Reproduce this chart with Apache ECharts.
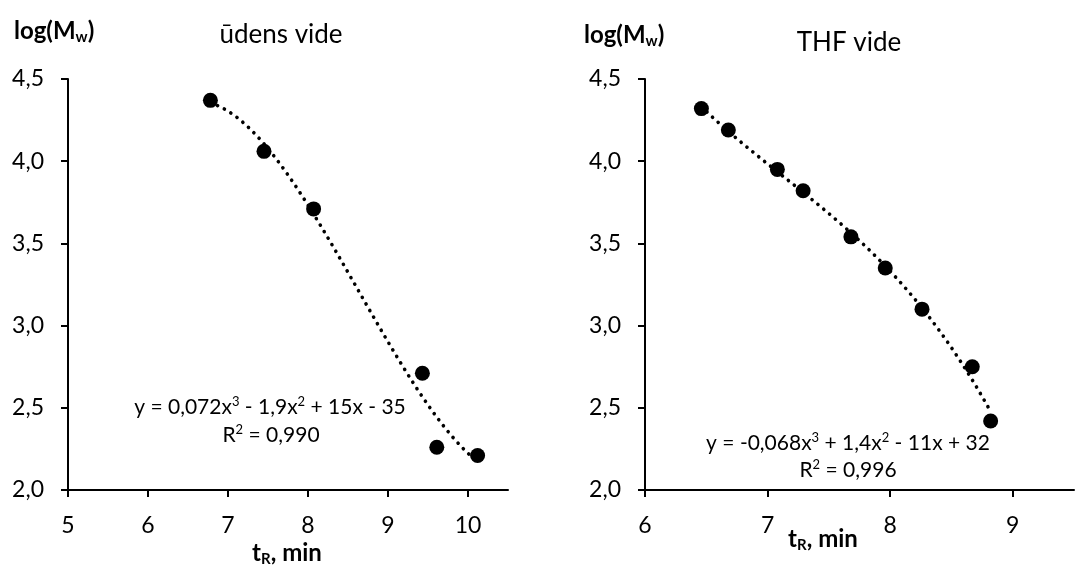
<!DOCTYPE html>
<html>
<head>
<meta charset="utf-8">
<script src="https://cdn.jsdelivr.net/npm/echarts@6/dist/echarts.min.js"></script>
<style>
  html, body { margin: 0; padding: 0; background: #fff; }
  #chart { width: 1075px; height: 567px; }
</style>
</head>
<body>
<div id="chart"></div>
<script>
const FONT = 'Lato';

// Calibration standards: retention time t_R (min) and log(Mw)
const waterTime = [6.78, 7.45, 8.07, 9.43, 9.61, 10.12];
const waterLogM = [4.37, 4.06, 3.71, 2.71, 2.26, 2.21];
const thfTime = [6.46, 6.68, 7.08, 7.29, 7.68, 7.96, 8.26, 8.67, 8.82];
const thfLogM = [4.32, 4.19, 3.95, 3.82, 3.54, 3.35, 3.10, 2.75, 2.42];

// Axis ticks
const waterTimeTicks = [5, 6, 7, 8, 9, 10];
const thfTimeTicks = [6, 7, 8, 9];
const logMTicks = [2.0, 2.5, 3.0, 3.5, 4.0, 4.5];

// Panel texts; superscripts are marked with ^
const waterTitle = 'ūdens vide';
const thfTitle = 'THF vide';
const waterEquation = ['y = 0,072x^3 - 1,9x^2 + 15x - 35', 'R^2 = 0,990'];
const thfEquation = ['y = -0,068x^3 + 1,4x^2 - 11x + 32', 'R^2 = 0,996'];

// Least-squares polynomial fit (third order trendline)
function polyFit(xs, ys, deg) {
  const n = deg + 1;
  const mx = xs.reduce((a, b) => a + b, 0) / xs.length;
  const A = Array.from({ length: n }, () => new Array(n + 1).fill(0));
  xs.forEach((x, k) => {
    const t = x - mx;
    for (let i = 0; i < n; i++) {
      for (let j = 0; j < n; j++) A[i][j] += Math.pow(t, i + j);
      A[i][n] += Math.pow(t, i) * ys[k];
    }
  });
  for (let c = 0; c < n; c++) {
    let p = c;
    for (let r = c + 1; r < n; r++) if (Math.abs(A[r][c]) > Math.abs(A[p][c])) p = r;
    [A[c], A[p]] = [A[p], A[c]];
    for (let r = 0; r < n; r++) {
      if (r === c) continue;
      const f = A[r][c] / A[c][c];
      for (let k = c; k <= n; k++) A[r][k] -= f * A[c][k];
    }
  }
  const coef = A.map((row, i) => row[n] / row[i]);
  return x => coef.reduce((s, c, i) => s + c * Math.pow(x - mx, i), 0);
}

function trendPoints(xs, ys) {
  const f = polyFit(xs, ys, 3);
  const lo = Math.min(...xs), hi = Math.max(...xs);
  const steps = 120;
  const pts = [];
  for (let i = 0; i <= steps; i++) {
    const x = lo + (hi - lo) * i / steps;
    pts.push([x, f(x)]);
  }
  return pts;
}

const pairs = (xs, ys) => xs.map((x, i) => [x, ys[i]]);

function xAxisCfg(gridIndex, min, max, ticks) {
  return {
    type: 'value', gridIndex, min, max, interval: 1,
    axisLine: { onZero: false, lineStyle: { color: '#000', width: 2 } },
    axisTick: { show: true, length: 7, customValues: ticks, lineStyle: { color: '#000', width: 2 } },
    axisLabel: { customValues: ticks, margin: 24, color: '#000', fontFamily: FONT, fontSize: 23,
                 formatter: v => String(v) },
    splitLine: { show: false }
  };
}

function yAxisCfg(gridIndex) {
  return {
    type: 'value', gridIndex, min: 2, max: 4.5, interval: 0.5,
    axisLine: { show: true, onZero: false, lineStyle: { color: '#000', width: 2 } },
    axisTick: { show: true, length: 7, customValues: logMTicks, lineStyle: { color: '#000', width: 2 } },
    axisLabel: { customValues: logMTicks, margin: 24, color: '#000', fontFamily: FONT, fontSize: 23,
                 formatter: v => v.toFixed(1).replace('.', ',') },
    splitLine: { show: false }
  };
}

function scatterSeries(idx, xs, ys) {
  return {
    type: 'scatter', xAxisIndex: idx, yAxisIndex: idx,
    data: pairs(xs, ys), symbol: 'circle', symbolSize: 15,
    itemStyle: { color: '#000', opacity: 1 }, z: 3
  };
}

function trendSeries(idx, xs, ys) {
  return {
    type: 'line', xAxisIndex: idx, yAxisIndex: idx,
    data: trendPoints(xs, ys), showSymbol: false, silent: true, z: 2,
    lineStyle: { color: '#000', width: 3.6, type: [0.1, 7.5], cap: 'round', opacity: 1 }
  };
}

function label(x, y, text, size) {
  return { type: 'text', x, y, silent: true,
    style: { text, align: 'center', verticalAlign: 'middle', fontFamily: FONT, fontSize: size, fill: '#000' } };
}

// Equation line: parts after ^ are raised as superscripts
function equation(x, y, text) {
  const rich = text.replace(/\^(\d)/g, '}{p|$1}{n|');
  return { type: 'text', x, y, silent: true,
    style: {
      text: '{n|' + rich + '}', align: 'center', verticalAlign: 'middle', fill: '#000',
      rich: {
        n: { fontFamily: FONT, fontSize: 21, lineHeight: 24, fill: '#000' },
        p: { fontFamily: FONT, fontSize: 13, lineHeight: 13, verticalAlign: 'top', fill: '#000' }
      }
    } };
}

// Bold text with a subscripted part: [before, sub, after]
function subLabel(x, y, parts, align) {
  return { type: 'text', x, y, silent: true,
    style: {
      text: '{m|' + parts[0] + '}{s|' + parts[1] + '}{m|' + parts[2] + '}',
      align: align || 'left', verticalAlign: 'middle', fill: '#000',
      rich: {
        m: { fontFamily: FONT, fontSize: 24, fontWeight: 'bold', lineHeight: 28, fill: '#000' },
        s: { fontFamily: FONT, fontSize: 15, fontWeight: 'bold', lineHeight: 13, verticalAlign: 'bottom', fill: '#000' }
      }
    } };
}

const chart = echarts.init(document.getElementById('chart'));
chart.setOption({
  animation: false,
  backgroundColor: '#fff',
  grid: [
    { left: 68, top: 79, width: 440, height: 411 },
    { left: 645, top: 79, width: 429, height: 411 }
  ],
  xAxis: [xAxisCfg(0, 5, 10.5, waterTimeTicks), xAxisCfg(1, 6, 9.5, thfTimeTicks)],
  yAxis: [yAxisCfg(0), yAxisCfg(1)],
  series: [
    trendSeries(0, waterTime, waterLogM),
    scatterSeries(0, waterTime, waterLogM),
    trendSeries(1, thfTime, thfLogM),
    scatterSeries(1, thfTime, thfLogM)
  ],
  graphic: [
    label(281, 35, waterTitle, 26),
    label(849, 43, thfTitle, 26),
    subLabel(14, 31, ['log(M', 'w', ')']),
    subLabel(584, 35, ['log(M', 'w', ')']),
    subLabel(287, 553, ['t', 'R', ', min'], 'center'),
    subLabel(823, 539, ['t', 'R', ', min'], 'center'),
    equation(270, 407, waterEquation[0]),
    equation(271, 435, waterEquation[1]),
    equation(848, 443, thfEquation[0]),
    equation(848, 470, thfEquation[1])
  ]
});
</script>
</body>
</html>
